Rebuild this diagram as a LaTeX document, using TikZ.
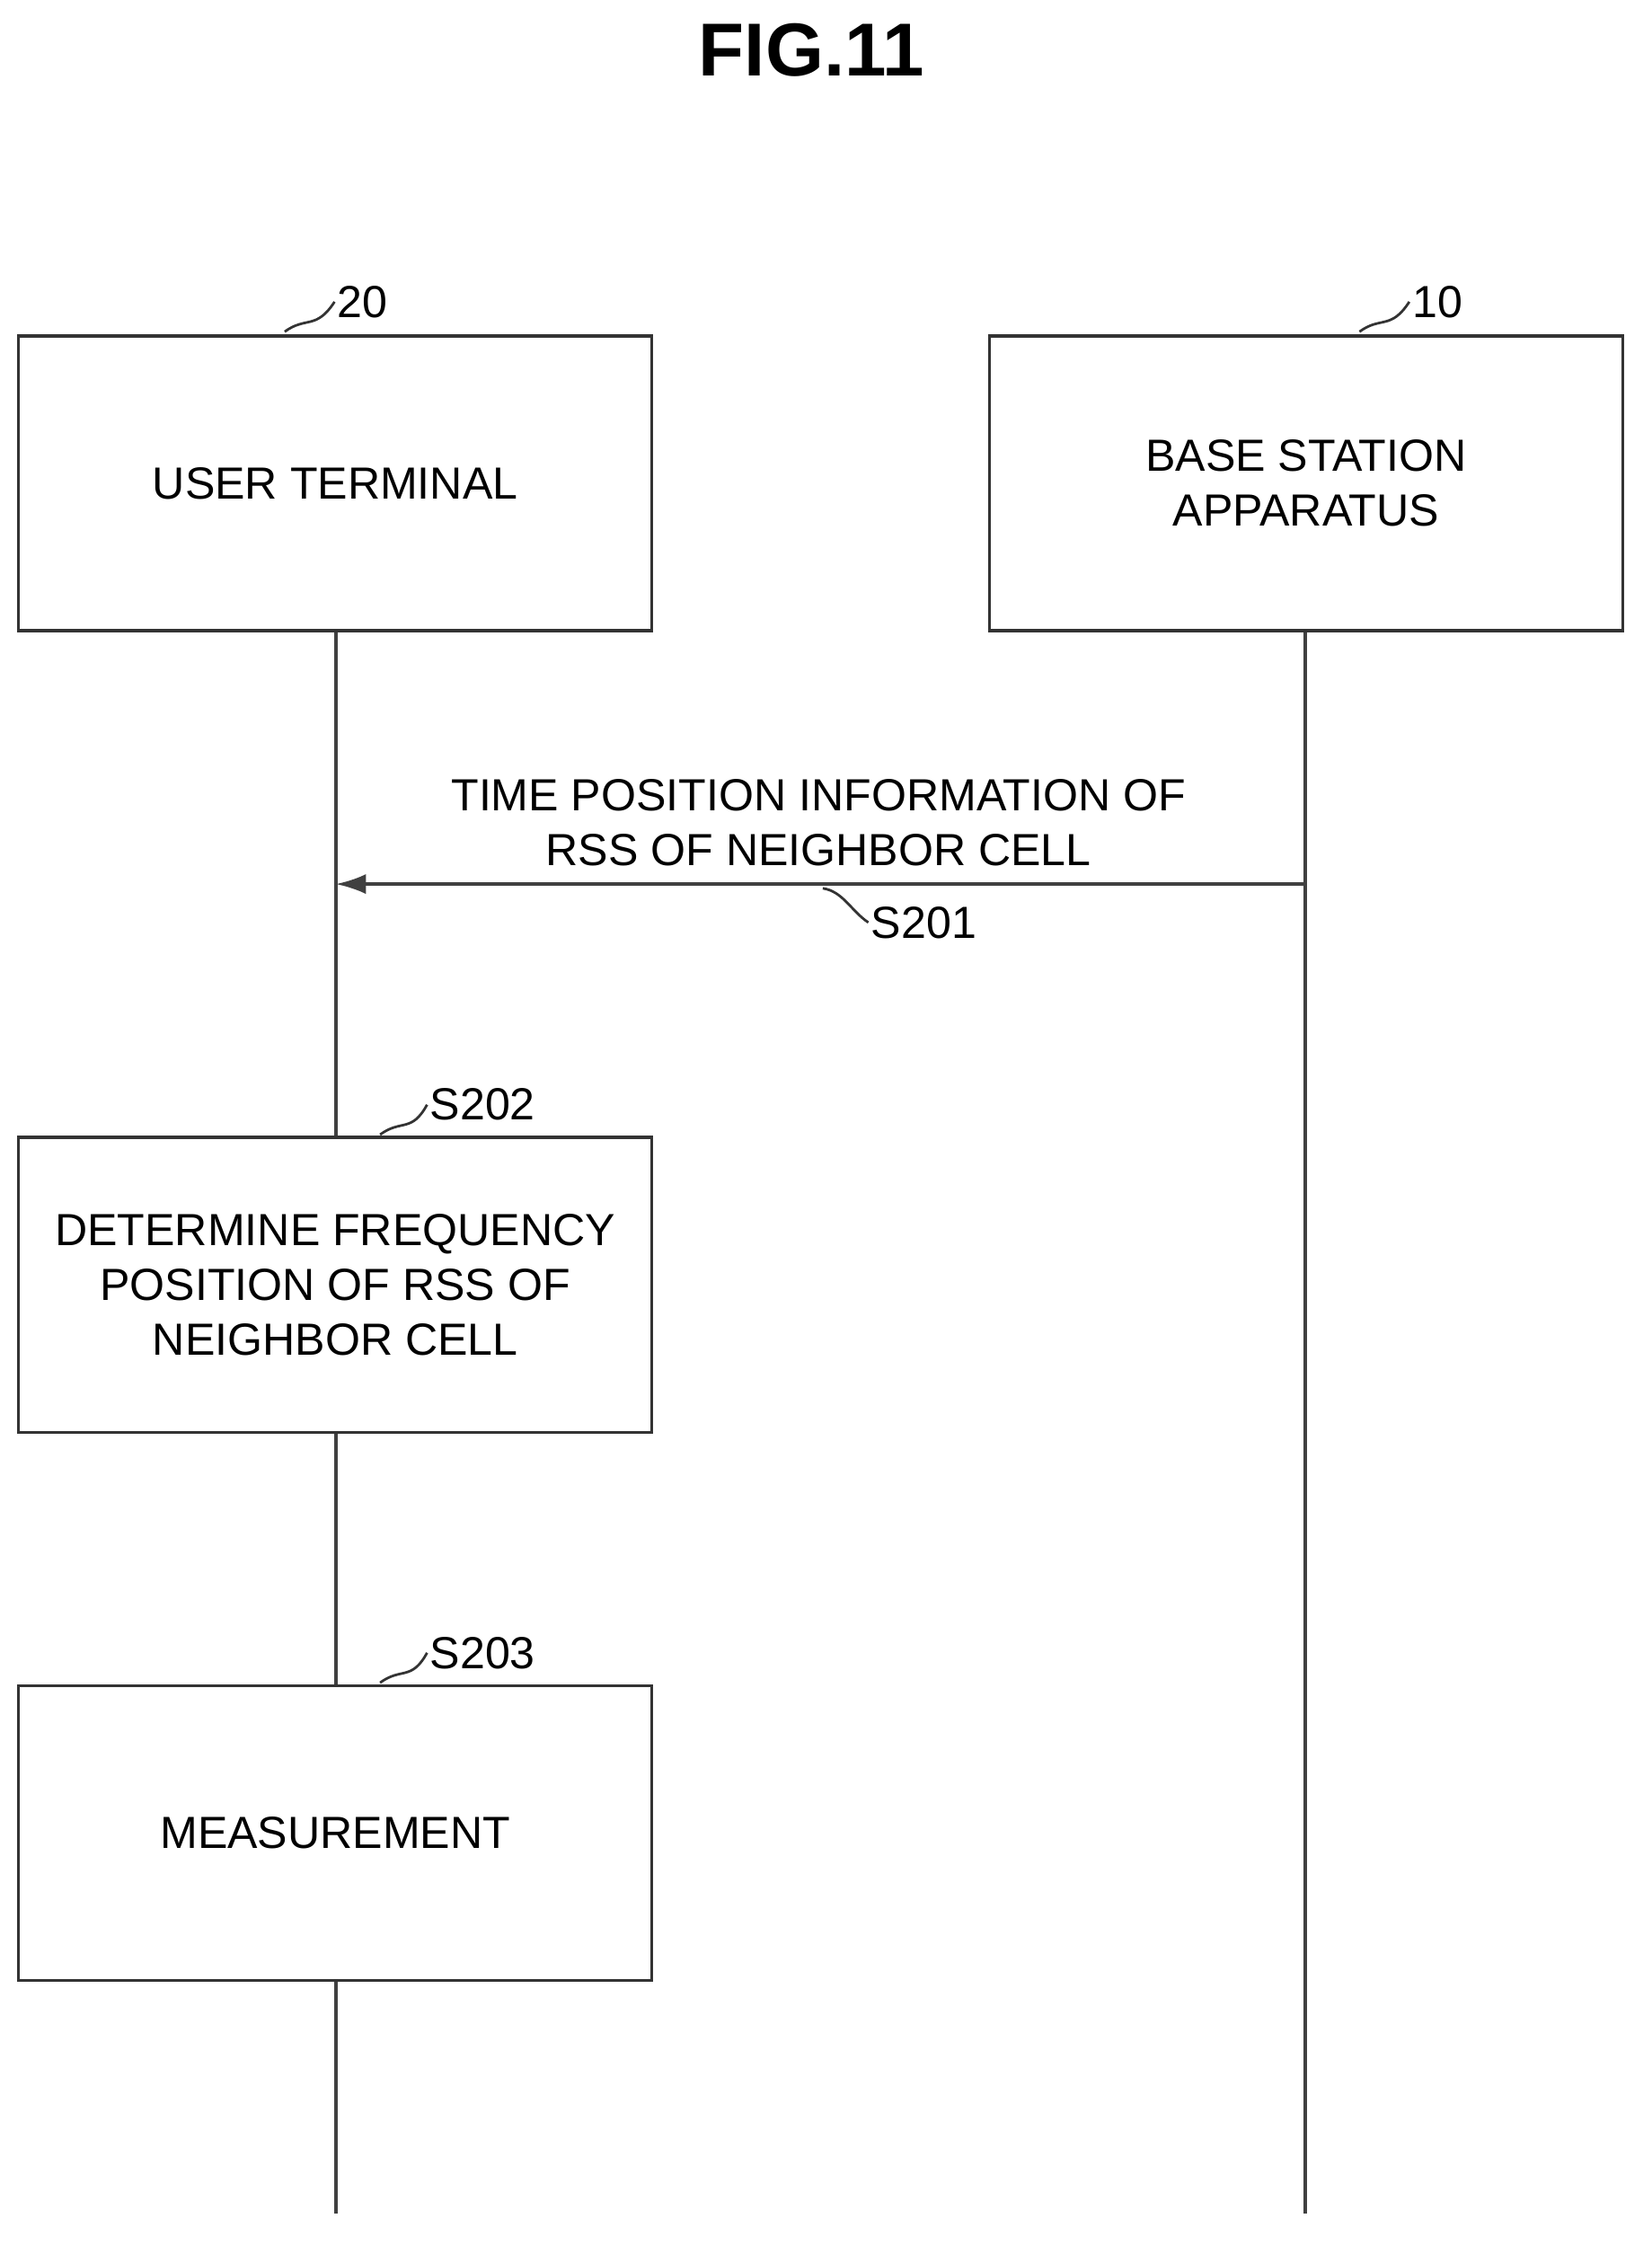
\documentclass[tikz,border=0pt]{standalone}
\usepackage{fontspec}
\setmainfont{Liberation Sans}
\usetikzlibrary{arrows.meta}
\begin{document}
\begin{tikzpicture}[x=0.02cm,y=-0.02cm,
  box/.style={draw=black!80,line width=1.2pt,minimum width=445*0.02cm,minimum height=207*0.02cm,inner sep=0pt,align=center,font=\fontsize{18}{22}\selectfont},
  life/.style={draw=black!75,line width=1.2pt},
  lbl/.style={font=\fontsize{18}{22}\selectfont,inner sep=1pt},
  sq/.style={draw=black!80,line width=1pt}]
\useasboundingbox (0,0) rectangle (1160,1577);
\node[font=\fontsize{30}{34}\selectfont\bfseries] (title) at (570,35) {FIG.11};
\node[box] (ut) at (235.5,339.5) {USER TERMINAL};
\node[box] (bs) at (917.5,339.5) {BASE STATION\\APPARATUS};
\node[box] (s2) at (235.5,902.5) {DETERMINE FREQUENCY\\POSITION OF RSS OF\\NEIGHBOR CELL};
\node[box] (s3) at (235.5,1287.5) {MEASUREMENT};
\coordinate (utend) at (236,1555);
\coordinate (bsend) at (917,1555);
\coordinate (a1) at (917,621);
\coordinate (a2) at (236,621);
\draw[life] (ut.south -| a2) -- (s2.north -| a2);
\draw[life] (s2.south -| a2) -- (s3.north -| a2);
\draw[life] (s3.south -| a2) -- (utend);
\draw[life] (bs.south -| a1) -- (bsend);
\draw[life,-{Latex[length=12pt,width=8pt]}] (a1) -- (a2);
\node[lbl,align=center] (msg) at (575,578) {TIME POSITION INFORMATION OF\\RSS OF NEIGHBOR CELL};
% reference labels
\node[lbl,anchor=west] (l20) at (235,212) {20};
\node[lbl,anchor=west] (l10) at (990,212) {10};
\node[lbl,anchor=west] (l201) at (610,648) {S201};
\node[lbl,anchor=west] (l202) at (300,776) {S202};
\node[lbl,anchor=west] (l203) at (300,1161) {S203};
\draw[sq] (200,233) .. controls (215,222) and (222,232) .. (l20.west);
\draw[sq] (955,233) .. controls (970,222) and (977,232) .. (l10.west);
\draw[sq] (578,624) .. controls (592,626) and (598,640) .. (l201.west);
\draw[sq] (267,797) .. controls (282,786) and (289,796) .. (l202.west);
\draw[sq] (267,1182) .. controls (282,1171) and (289,1181) .. (l203.west);
\end{tikzpicture}
\end{document}
